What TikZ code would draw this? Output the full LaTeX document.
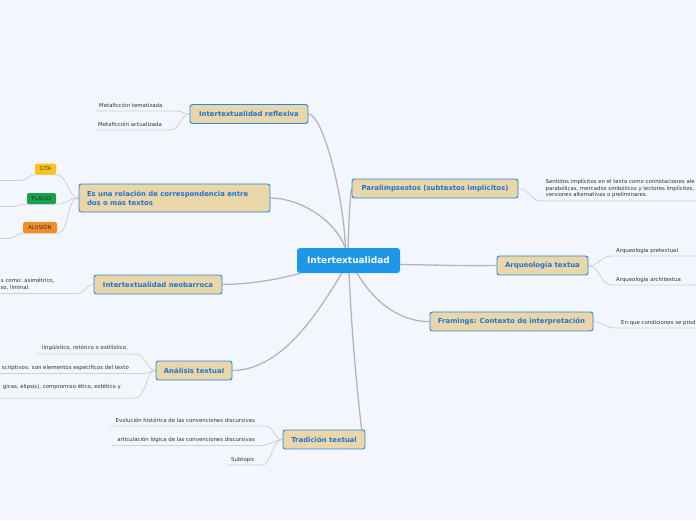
\documentclass[tikz,border=0pt]{standalone}
\usepackage{fontspec}
\setmainfont{DejaVu Sans}
\usetikzlibrary{backgrounds}
\definecolor{bgc}{HTML}{F3F6FD}
\definecolor{tfill}{HTML}{EAD6A8}
\definecolor{tborder}{HTML}{2289E6}
\definecolor{ttext}{HTML}{1C74D4}
\definecolor{cfill}{HTML}{1E97E8}
\definecolor{mainc}{HTML}{B4B5BB}
\definecolor{subc}{HTML}{CDD0D8}
\definecolor{subtext}{HTML}{333333}
\definecolor{citac}{HTML}{FFC21C}
\definecolor{plagc}{HTML}{16A24A}
\definecolor{alusc}{HTML}{F38D2A}
\tikzset{
  topic/.style={draw=tborder, line width=0.9pt, fill=tfill, rounded corners=2.5pt,
    text=ttext, font=\fontsize{6.9}{8.6}\selectfont\bfseries, minimum height=19pt, inner sep=0pt},
  central/.style={fill=cfill, rounded corners=3pt, text=white,
    font=\fontsize{9}{10}\selectfont\bfseries, minimum width=103pt, minimum height=25pt, inner sep=0pt},
  tag/.style={rounded corners=1.5pt, minimum height=11pt, inner sep=0pt,
    text=subtext, font=\fontsize{5.3}{6}\selectfont},
  lbl/.style={inner sep=0pt, text=subtext, font=\fontsize{5.4}{6.5}\selectfont},
  mainline/.style={draw=mainc, line width=1.3pt},
  subline/.style={draw=subc, line width=0.8pt},
}
\begin{document}
\begin{tikzpicture}[x=1pt,y=-1pt]
\useasboundingbox (0,0) rectangle (696,520);
\clip (0,0) rectangle (696,520);
% nodes
\node[central] (cen) at (348.5,260.5) {Intertextualidad};
\node[topic, minimum width=118pt] (refl) at (249,114) {Intertextualidad reflexiva};
\node[topic, minimum height=28pt, text width=175pt, inner xsep=8pt, align=left] (esuna) at (174.5,198) {Es una relación de correspondencia entre\\dos o mas textos};
\node[topic, minimum width=128pt] (neo) at (158,284.5) {Intertextualidad neobarroca};
\node[topic, minimum width=76pt] (anal) at (194,370.5) {Análisis textual};
\node[topic, minimum width=82pt] (trad) at (324,439.5) {Tradición textual};
\node[topic, minimum width=166pt] (para) at (435,188.5) {Paralimpsestos (subtextos implícitos)};
\node[topic, minimum width=91pt] (arq) at (542.5,265.5) {Arqueología textua};
\node[topic, minimum width=163pt] (fram) at (511.5,321.5) {Framings: Contexto de interpretación};
% tags
\node[tag, fill=citac, minimum width=21pt] (cita) at (45.5,169) {CITA};
\node[tag, fill=plagc, minimum width=29pt] (plagio) at (41.5,198.5) {PLAGIO};
\node[tag, fill=alusc, minimum width=34pt] (alusion) at (40,227.5) {ALUSIÓN};
% sub labels
\node[lbl, anchor=west] (r1) at (99,105.5) {Metaficción tematizada};
\node[lbl, anchor=west] (r2) at (98,124.5) {Metaficción actualizada};
\node[lbl, anchor=west] (n1) at (0.8,281) {s como: asimétrico,};
\node[lbl, anchor=east] (n2) at (30,288) {so, liminal.};
\node[lbl, anchor=west] (a1) at (42,348.3) {lingüístico, retórico o estilístico,};
\node[lbl, anchor=east] (a2) at (129,368.3) {scriptivos: son elementos específicos del texto};
\node[lbl, anchor=east] (a3) at (121,387.3) {gicas, elipsis), compromiso ético, estético y};
\node[lbl, anchor=east] (t1) at (255,420.7) {Evolución histórica de las convenciones discursivas};
\node[lbl, anchor=east] (t2) at (255,440) {articulación lógica de las convenciones discursivas};
\node[lbl, anchor=east] (t3) at (255,460) {Subtopic};
\node[lbl, anchor=north west, align=left, font=\fontsize{5.4}{6.5}\selectfont] (p1) at (545.5,179) {Sentidos implícitos en el texto como connotaciones ale\\parabólicas, mercados simbólicos y lectores implícitos,\\versiones alternativas o preliminares.};
\node[lbl, anchor=west] (q1) at (616,250.7) {Arqueología pretextual};
\node[lbl, anchor=west] (q2) at (616,280) {Arqueología architextua};
\node[lbl, anchor=west] (f1) at (621,322.7) {En que condiciones se prod};
% free ends
\coordinate (ctop) at (345.5,248);
\coordinate (ctop2) at (348,248);
\coordinate (cbl) at (300,273.5);
\coordinate (cbot1) at (342,273);
\coordinate (cbot2) at (349,273);
\coordinate (cbot3) at (357,273);
\coordinate (cright) at (400,264.5);
\coordinate (tradtop) at (362,432);
\begin{scope}[on background layer]
\fill[bgc] (0,0) rectangle (696,520);
% main connectors
\draw[mainline] (refl.east) .. controls (322,114) and (343,190) .. (ctop);
\draw[mainline] (ctop2) .. controls (349,220) and (350,196) .. (para.west);
\draw[mainline] (esuna.east) .. controls (300,198) and (335,220) .. (ctop);
\draw[mainline] (neo.east) .. controls (260,284) and (285,277) .. (cbl);
\draw[mainline] (anal.east) .. controls (285,370) and (322,305) .. (cbot1);
\draw[mainline] (cbot2) .. controls (352,340) and (358,400) .. (tradtop);
\draw[mainline] (cright) .. controls (440,265) and (460,266) .. (arq.west);
\draw[mainline] (cbot3) .. controls (380,312) and (410,322) .. (fram.west);
% sub connectors
\draw[subline] (refl.west) .. controls (183,114) and (183,111) .. (176,111) -- (95,111);
\draw[subline] (refl.west) .. controls (181,114) and (180,130) .. (170,130) -- (95,130);
\draw[subline] (esuna.west) .. controls (68,198) and (68,175) .. (cita.south east) -- (cita.south west) .. controls (28,175) and (28,180.5) .. (20,180.5) -- (0,180.5);
\draw[subline] (esuna.west) .. controls (68,198) and (68,204) .. (plagio.south east) -- (plagio.south west) .. controls (20,204) and (20,206.5) .. (12,206.5) -- (0,206.5);
\draw[subline] (esuna.west) .. controls (66,198) and (70,233) .. (alusion.south east) -- (alusion.south west) .. controls (16,233) and (16,238.5) .. (8,238.5) -- (0,238.5);
\draw[subline] (neo.west) .. controls (86,285) and (85,293.5) .. (76,293.5) -- (0,293.5);
\draw[subline] (anal.west) .. controls (146,370.5) and (146,354) .. (135,354) -- (37,354);
\draw[subline] (anal.west) .. controls (150,370.5) and (150,373.5) .. (143,373.5) -- (0,373.5);
\draw[subline] (anal.west) .. controls (146,370.5) and (146,398.3) .. (135,398.3) -- (0,398.3);
\draw[subline] (trad.west) .. controls (274,440) and (275,426) .. (265,426) -- (110,426);
\draw[subline] (trad.west) .. controls (274,440) and (270,445.5) .. (260,445.5) -- (112,445.5);
\draw[subline] (trad.west) .. controls (272,440) and (272,465) .. (262,465) -- (227,465);
\draw[subline] (para.east) .. controls (530,189) and (530,201) .. (542,201) -- (696,201);
\draw[subline] (arq.east) .. controls (600,266) and (600,256) .. (612,256) -- (696,256);
\draw[subline] (arq.east) .. controls (600,266) and (600,285) .. (612,285) -- (696,285);
\draw[subline] (fram.east) .. controls (604,322) and (605,328) .. (616,328) -- (696,328);
\end{scope}
\end{tikzpicture}
\end{document}
